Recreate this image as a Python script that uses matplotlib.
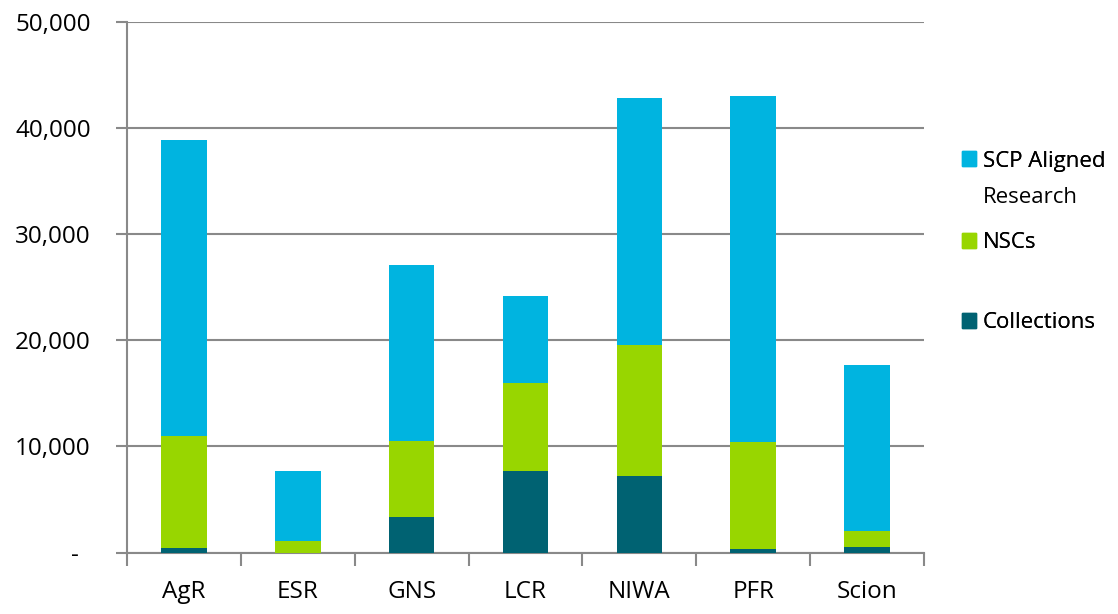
import matplotlib
matplotlib.use("Agg")
import matplotlib.pyplot as plt
from matplotlib.patches import Patch
from matplotlib.ticker import FuncFormatter, FixedLocator
import numpy as np

categories = ["AgR", "ESR", "GNS", "LCR", "NIWA", "PFR", "Scion"]
collections = [470, 0, 3330, 7690, 7260, 300, 550]
nscs = [10510, 1130, 7180, 8270, 12330, 10100, 1500]
scp_aligned = [27910, 6560, 16560, 8220, 23230, 32640, 15620]

series_names = ["SCP Aligned", "NSCs", "Collections"]
colors = {"Collections": "#006272", "NSCs": "#98D600", "SCP": "#00B4E0"}

plt.rcParams['font.family'] = ['Open Sans', 'DejaVu Sans']

fig = plt.figure(figsize=(11.18, 6.14), dpi=100)
ax = fig.add_axes([127/1118, 1 - 552.6/614, (924-127)/1118, (552.6-22)/614])

x = np.arange(len(categories))
w = 0.4
c = np.array(collections)
n = np.array(nscs)
s = np.array(scp_aligned)
ax.bar(x, c, w, color=colors["Collections"], zorder=3)
ax.bar(x, n, w, bottom=c, color=colors["NSCs"], zorder=3)
ax.bar(x, s, w, bottom=c + n, color=colors["SCP"], zorder=3)

ax.set_xlim(-0.5, len(categories) - 0.5)
ax.set_ylim(0, 50000)
ax.set_yticks(np.arange(0, 50001, 10000))
ax.yaxis.set_major_formatter(FuncFormatter(lambda v, p: "-  " if v == 0 else f"{int(v):,}"))
ax.grid(axis='y', color='#898989', linewidth=1.5, zorder=0)

ax.set_xticks(x)
ax.set_xticklabels(categories)
ax.xaxis.set_minor_locator(FixedLocator(np.arange(-0.5, len(categories), 1.0)))
ax.tick_params(axis='x', which='major', length=0, labelsize=17.5, pad=20, labelcolor='black')
ax.tick_params(axis='x', which='minor', length=9, width=1.5, color='#898989', direction='out')
ax.tick_params(axis='y', length=8, width=1.5, color='#898989', labelsize=17.5, pad=18, labelcolor='black')

for side in ['top', 'right']:
    ax.spines[side].set_visible(False)
for side in ['left', 'bottom']:
    ax.spines[side].set_color('#898989')
    ax.spines[side].set_linewidth(1.5)

handles = [Patch(color=colors["SCP"]), Patch(color=colors["NSCs"]), Patch(color=colors["Collections"])]
ypos = [161/614, 243/614, 323/614]
for h, lab, yp in zip(handles, series_names, ypos):
    lg = fig.legend([h], [lab], loc='center left', bbox_to_anchor=(962/1118, 1 - yp),
                    frameon=False, fontsize=16, handlelength=0.63, handleheight=0.63,
                    handletextpad=0.3, borderpad=0, borderaxespad=0)
    fig.add_artist(lg)
fig.text(983/1118, 1 - 203/614, "Research", fontsize=16, va='baseline', ha='left')

fig.savefig("out.png", dpi=100)
